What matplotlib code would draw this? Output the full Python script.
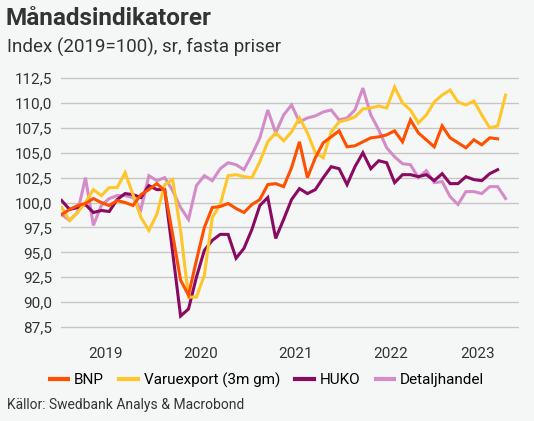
import matplotlib
matplotlib.use("Agg")
import matplotlib.pyplot as plt
import numpy as np

plt.rcParams['font.family'] = ['Roboto', 'DejaVu Sans']

bnp = [98.8,99.3,99.7,99.9,100.4,100.0,99.7,100.2,100.0,99.7,100.8,101.3,101.9,101.2,96.8,92.2,90.7,94.2,97.5,99.5,99.6,99.9,99.4,99.0,99.8,100.3,101.8,101.9,101.6,103.5,106.1,102.5,104.5,106.0,106.6,107.2,105.6,105.7,106.1,106.5,106.6,106.8,107.2,106.1,108.3,107.0,106.3,105.6,107.7,106.5,106.0,105.5,106.3,105.8,106.5,106.4]
varuexport = [99.5,98.2,99.0,100.0,101.3,100.7,101.5,101.5,103.0,100.8,98.5,97.2,98.8,101.8,102.3,97.2,90.5,90.5,92.7,98.5,99.8,102.7,102.8,102.6,102.5,104.1,106.1,107.0,106.2,107.1,108.5,107.0,105.0,104.5,107.1,108.1,108.3,108.6,109.4,109.5,109.7,109.5,111.6,110.0,109.3,108.0,108.8,110.1,110.8,111.3,110.1,109.8,110.2,108.8,107.5,107.7,110.8]
huko = [100.2,99.3,99.5,99.8,99.0,99.2,99.1,100.3,100.9,100.8,100.5,101.7,101.3,101.3,95.0,88.6,89.3,92.5,95.2,96.2,96.8,96.8,94.4,95.4,97.3,99.7,100.5,96.4,98.3,100.3,101.4,100.9,101.3,102.5,103.6,103.4,101.8,103.6,105.0,103.4,104.2,104.0,102.0,102.8,102.8,102.6,102.8,102.2,102.9,101.9,101.9,102.6,102.3,102.2,102.9,103.3]
detalj = [98.8,98.2,99.0,102.5,97.7,99.7,100.4,100.7,100.7,100.5,99.3,102.7,102.2,102.5,101.2,99.5,98.3,101.7,102.7,102.2,103.4,104.0,103.8,103.3,104.8,106.5,109.3,107.0,108.8,109.8,108.1,108.5,108.7,109.1,109.3,108.3,108.5,109.3,111.5,108.8,107.3,105.5,104.6,103.9,103.8,102.5,103.2,102.0,102.1,100.6,99.8,101.1,101.1,100.9,101.6,101.6,100.4]
years = ['2019','2020','2021','2022','2023']
yticks = [87.5,90,92.5,95,97.5,100,102.5,105,107.5,110,112.5]

bg = '#f5f7f7'
fig = plt.figure(figsize=(5.34,4.21), dpi=100, facecolor=bg)
ax = fig.add_axes([0.114,0.195,0.858,0.636], facecolor=bg)

series = [(bnp,'BNP','#ff5000'),(varuexport,'Varuexport (3m gm)','#ffc629'),
          (huko,'HUKO','#8a0a62'),(detalj,'Detaljhandel','#d48cc8')]
for s,l,c in reversed(series):
    ax.plot(np.arange(len(s)), s, color=c, lw=2.2, label=l, solid_joinstyle='miter')

ax.set_xlim(-0.1,57.7)
ax.set_ylim(86.3,113.2)
ax.set_yticks(yticks)
ax.set_yticklabels([f"{v:.1f}".replace('.',',') for v in yticks], fontsize=11, color='#333333')
ax.set_xticks([5.5,17.5,29.5,41.5,52.5])
ax.set_xticklabels(years, fontsize=11, color='#333333')
ax.tick_params(length=0, pad=6)
ax.grid(axis='y', color='#c8c4c4', lw=1)
ax.set_axisbelow(True)
for sp in ax.spines.values():
    sp.set_visible(False)

h,lab = ax.get_legend_handles_labels()
fig.legend(h[::-1], lab[::-1], loc='center', bbox_to_anchor=(0.5,0.097), ncol=4, frameon=False,
           fontsize=11, handlelength=1.2, handletextpad=0.4, columnspacing=1.0)
for lh in fig.legends[0].get_lines():
    lh.set_linewidth(3)

fig.text(0.011,0.957,'Månadsindikatorer', fontsize=17.5, fontweight='bold', color='#333333', va='center')
fig.text(0.013,0.888,'Index (2019=100), sr, fasta priser', fontsize=13.5, color='#333333', va='center')
fig.text(0.013,0.038,'Källor: Swedbank Analys & Macrobond', fontsize=10, color='#333333', va='center')

fig.savefig('out.png', dpi=100, facecolor=bg)
